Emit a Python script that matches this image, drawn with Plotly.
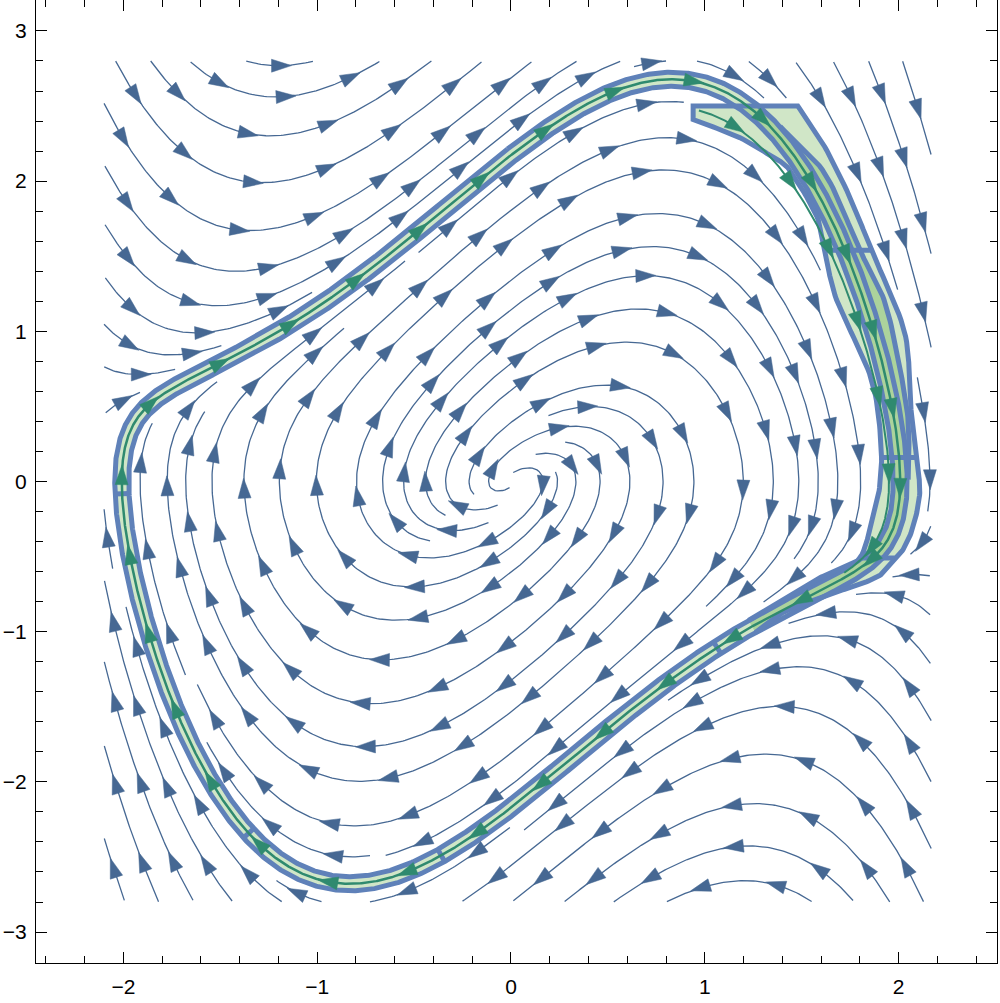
import math
from collections import deque
import numpy as np
import plotly.graph_objects as go

# ---------------- data ----------------
MU = 1.0                      # Van der Pol field: x' = y, y' = MU (1 - x^2) y - x
STREAM_X = [-2.1, 2.17]       # stream-plot domain
STREAM_Y = [-2.8, 2.8]
X_RANGE = [-2.451, 2.508]
Y_RANGE = [-3.206, 3.206]
X_TICKS = [-2, -1, 0, 1, 2]
Y_TICKS = [-3, -2, -1, 0, 1, 2, 3]
MINOR_STEP = 0.2

# cross sections of the thin enclosing tube (points near the cycle)
TUBE_CROSS_X = [0.91, -2.00, -1.35, -0.37, 1.06]
TUBE_CROSS_Y = [2.68, -0.08, -2.34, -2.47, -1.10]

# wide enclosure on the right-hand side
WIDE_IN_X = [1.23, 1.40, 1.54, 1.68, 1.80, 1.86, 1.90, 1.91, 1.86, 1.68, 1.62, 1.58,
             1.44, 1.35, 1.18, 0.94]
WIDE_IN_Y = [-0.90, -0.79, -0.675, -0.59, -0.51, -0.28, -0.06, 0.23, 0.68, 1.21, 1.54,
             1.76, 2.07, 2.16, 2.29, 2.41]
WIDE_OUT_X = [1.48, 1.61, 1.75, 1.86, 2.03, 2.06, 2.09, 2.11, 2.08, 2.03, 1.98,
              1.92, 1.82, 1.68, 1.54, 1.40, 1.23]
WIDE_OUT_Y = [2.50, 2.25, 1.89, 1.54, 1.00, 0.54, 0.16, -0.06, -0.28, -0.44, -0.51,
              -0.61, -0.675, -0.735, -0.80, -0.875, -0.97]
WIDE_CROSS_Y = [1.54, 0.16, -0.51]
WIDE_CROSS_XIN = [1.62, 1.90, 1.80]
WIDE_CROSS_XOUT = [1.86, 2.09, 1.98]

# nested enclosure (outer side of the tube)
NEST_X = [1.40, 1.62, 1.80, 1.925, 2.00, 2.05, 2.05]
NEST_Y = [2.35, 2.05, 1.54, 1.21, 0.80, 0.40, 0.03]

GREEN_START = [0.97, 2.47]

# ---------------- styling / scales ----------------
W, H = 1000, 1003
ML, MR, MT, MB = 36, 3, 0, 40
SX = (W - ML - MR) / (X_RANGE[1] - X_RANGE[0])
SY = (H - MT - MB) / (Y_RANGE[1] - Y_RANGE[0])

STREAM_COLOR = "#466893"
EDGE_COLOR = "#5F81B9"
FILL_COLOR = "rgba(60,150,20,0.24)"
CYCLE_COLOR = "#2f8a6f"
TUBE_HALF = 7.0


def field(x, y):
    return y, MU * (1 - x * x) * y - x


def rk4(x, y, dt):
    k1 = field(x, y)
    k2 = field(x + 0.5 * dt * k1[0], y + 0.5 * dt * k1[1])
    k3 = field(x + 0.5 * dt * k2[0], y + 0.5 * dt * k2[1])
    k4 = field(x + dt * k3[0], y + dt * k3[1])
    return (x + dt / 6 * (k1[0] + 2 * k2[0] + 2 * k3[0] + k4[0]),
            y + dt / 6 * (k1[1] + 2 * k2[1] + 2 * k3[1] + k4[1]))


# ---- limit cycle ----
dt = 0.002
x, y = 2.0, 0.0
for _ in range(15000):
    x, y = rk4(x, y, dt)
while True:
    xn, yn = rk4(x, y, dt)
    if x < 0 <= xn and y > 0:
        x, y = xn, yn
        break
    x, y = xn, yn
cyc = [(x, y)]
steps = 0
while True:
    xn, yn = rk4(x, y, dt)
    steps += 1
    if steps > 100 and x < 0 <= xn and yn > 0:
        break
    cyc.append((xn, yn))
    x, y = xn, yn
cyc = np.array(cyc)
cx, cy = cyc[:, 0], cyc[:, 1]
NC = len(cx)

P = np.column_stack([cx * SX, cy * SY])
T = np.roll(P, -1, axis=0) - np.roll(P, 1, axis=0)
T /= np.linalg.norm(T, axis=1)[:, None]
Nrm = np.column_stack([-T[:, 1], T[:, 0]])
cen = P.mean(axis=0)
if np.mean(np.sum(Nrm * (P - cen), axis=1)) < 0:
    Nrm = -Nrm
INNER = P - TUBE_HALF * Nrm
OUTER = P + TUBE_HALF * Nrm


def to_data(A):
    return A[:, 0] / SX, A[:, 1] / SY


def catmull(xs, ys, n=14):
    Q = np.column_stack([np.array(xs) * SX, np.array(ys) * SY])
    Q = np.vstack([2 * Q[0] - Q[1], Q, 2 * Q[-1] - Q[-2]])
    out = []
    for i in range(1, len(Q) - 2):
        p0, p1, p2, p3 = Q[i - 1], Q[i], Q[i + 1], Q[i + 2]
        for t in np.linspace(0, 1, n, endpoint=False):
            t2, t3 = t * t, t * t * t
            out.append(0.5 * ((2 * p1) + (-p0 + p2) * t + (2 * p0 - 5 * p1 + 4 * p2 - p3) * t2
                              + (-p0 + 3 * p1 - 3 * p2 + p3) * t3))
    out.append(Q[-2])
    return np.array(out)


def nearest(A, px, py):
    return int(np.argmin((A[:, 0] - px) ** 2 + (A[:, 1] - py) ** 2))


right_idx = np.arange(NC)[(np.arange(NC) < NC // 2)]

# ---- wide enclosure polygon (tail ends snapped onto the tube edges) ----
idx_tail = nearest(P, WIDE_OUT_X[-1] * SX, 0.5 * (WIDE_OUT_Y[-1] + WIDE_IN_Y[0]) * SY)
in_xs, in_ys = list(WIDE_IN_X), list(WIDE_IN_Y)
in_xs[0], in_ys[0] = INNER[idx_tail, 0] / SX, INNER[idx_tail, 1] / SY
out_xs, out_ys = list(WIDE_OUT_X), list(WIDE_OUT_Y)
out_xs[-1], out_ys[-1] = OUTER[idx_tail, 0] / SX, OUTER[idx_tail, 1] / SY
IN_C = catmull(in_xs, in_ys)
OUT_C = catmull(out_xs, out_ys)
corner = np.array([[WIDE_IN_X[-1] * SX, WIDE_OUT_Y[0] * SY]])
wide_edge = np.vstack([IN_C, corner, OUT_C])
wide_poly = wide_edge


def right_level(A, level, xmin):
    best, bi = 1e9, 0
    for i in right_idx:
        if A[i, 0] / SX > xmin:
            d = abs(A[i, 1] / SY - level)
            if d < best:
                best, bi = d, i
    return bi


# ---- nested enclosure ----
NEST_C = catmull(NEST_X, NEST_Y)
idx_nt = right_level(OUTER, NEST_Y[0], 1.0)
idx_nb = right_level(OUTER, NEST_Y[-1], 1.5)
nest_poly = np.vstack([OUTER[idx_nt:idx_nb + 1], NEST_C[::-1]])
nest_edge = np.vstack([OUTER[idx_nt:idx_nt + 1], NEST_C, OUTER[idx_nb:idx_nb + 1]])

# ---- edges ----
ex, ey = [], []


def add_path(A):
    xs, ys = to_data(A)
    ex.extend(xs.tolist() + [None])
    ey.extend(ys.tolist() + [None])


add_path(np.vstack([OUTER, OUTER[:1]]))
add_path(np.vstack([INNER, INNER[:1]]))
add_path(wide_edge)
add_path(nest_edge)
for qx, qy in zip(TUBE_CROSS_X, TUBE_CROSS_Y):
    i = nearest(P, qx * SX, qy * SY)
    add_path(np.vstack([INNER[i], OUTER[i]]))
for lv, xi, xo in zip(WIDE_CROSS_Y, WIDE_CROSS_XIN, WIDE_CROSS_XOUT):
    add_path(np.array([[xi * SX, lv * SY], [xo * SX, lv * SY]]))

# ---- blocking points (band region) ----
band = []
for f in np.linspace(-1, 1, 5):
    Bp = P + f * TUBE_HALF * Nrm
    band.extend(Bp[::2].tolist())
for A in (OUT_C, IN_C):
    for p in A:
        j = nearest(P, p[0], p[1])
        d = math.hypot(p[0] - P[j, 0], p[1] - P[j, 1])
        m = int(math.ceil(d / 5.0)) + 1
        for t in np.linspace(0, 1, m):
            band.append((P[j, 0] + t * (p[0] - P[j, 0]), P[j, 1] + t * (p[1] - P[j, 1])))
for t in np.linspace(0, 1, 30):
    band.append((WIDE_IN_X[-1] * SX + t * (WIDE_OUT_X[0] - WIDE_IN_X[-1]) * SX, WIDE_OUT_Y[0] * SY))

# ---------------- streamlines (evenly spaced) ----------------
DSEP = 31.0
DTEST = 14.0
BAND_THR = 8.0
STEP = 2.5
CRIT_R = 5.0
SELF_GAP = 45.0
MAXSTEPS = 500
MINLEN = 18.0
SEED_STRIDE = 4
X0, X1 = STREAM_X[0] * SX, STREAM_X[1] * SX
Y0, Y1 = STREAM_Y[0] * SY, STREAM_Y[1] * SY

BC = BAND_THR
BG = {}
for bx, by in band:
    BG.setdefault((int(bx // BC), int(by // BC)), []).append((bx, by))
G = {}


def band_near(x, y, thr):
    ci, cj = int(x // BC), int(y // BC)
    r = int(math.ceil(thr / BC))
    t2 = thr * thr
    for i in range(ci - r, ci + r + 1):
        for j in range(cj - r, cj + r + 1):
            lst = BG.get((i, j))
            if lst:
                for qx, qy in lst:
                    dx, dy = qx - x, qy - y
                    if dx * dx + dy * dy < t2:
                        return True
    return False


def line_near(x, y, thr):
    ci, cj = int(x // DSEP), int(y // DSEP)
    t2 = thr * thr
    for i in (ci - 1, ci, ci + 1):
        for j in (cj - 1, cj, cj + 1):
            lst = G.get((i, j))
            if lst:
                for qx, qy in lst:
                    dx, dy = qx - x, qy - y
                    if dx * dx + dy * dy < t2:
                        return True
    return False


def self_near(loc, x, y, s):
    ci, cj = int(x // DTEST), int(y // DTEST)
    t2 = DTEST * DTEST
    for i in (ci - 1, ci, ci + 1):
        for j in (cj - 1, cj, cj + 1):
            lst = loc.get((i, j))
            if lst:
                for qx, qy, qs in lst:
                    if abs(qs - s) > SELF_GAP:
                        dx, dy = qx - x, qy - y
                        if dx * dx + dy * dy < t2:
                            return True
    return False


def vdir(px, py):
    xx, yy = px / SX, py / SY
    u = yy * SX
    v = (MU * (1 - xx * xx) * yy - xx) * SY
    m = math.hypot(u, v)
    if m < 1e-9:
        return None
    return u / m, v / m


def trace_dir(x, y, sign, loc):
    pts = []
    s = 0.0
    for _ in range(MAXSTEPS):
        d = vdir(x, y)
        if d is None:
            break
        mx, my = x + 0.5 * STEP * sign * d[0], y + 0.5 * STEP * sign * d[1]
        d2 = vdir(mx, my)
        if d2 is None:
            break
        nx, ny = x + STEP * sign * d2[0], y + STEP * sign * d2[1]
        s += STEP
        if nx < X0 or nx > X1 or ny < Y0 or ny > Y1:
            break
        if nx * nx + ny * ny < CRIT_R * CRIT_R:
            break
        if band_near(nx, ny, BAND_THR) or line_near(nx, ny, DTEST) or self_near(loc, nx, ny, sign * s):
            break
        pts.append((nx, ny))
        loc.setdefault((int(nx // DTEST), int(ny // DTEST)), []).append((nx, ny, sign * s))
        x, y = nx, ny
    return pts


def make_line(sx, sy):
    loc = {(int(sx // DTEST), int(sy // DTEST)): [(sx, sy, 0.0)]}
    fw = trace_dir(sx, sy, 1, loc)
    bw = trace_dir(sx, sy, -1, loc)
    line = bw[::-1] + [(sx, sy)] + fw
    if (len(line) - 1) * STEP < MINLEN:
        return None
    for qx, qy in line:
        G.setdefault((int(qx // DSEP), int(qy // DSEP)), []).append((qx, qy))
    return line


def seed_ok(x, y):
    if x < X0 or x > X1 or y < Y0 or y > Y1:
        return False
    if x * x + y * y < (2 * CRIT_R) ** 2:
        return False
    if band_near(x, y, BAND_THR + 3):
        return False
    if line_near(x, y, DSEP * 0.9):
        return False
    return True


lines = []


def grow(sx, sy):
    if not seed_ok(sx, sy):
        return
    L = make_line(sx, sy)
    if L is None:
        return
    lines.append(L)
    q = deque([L])
    while q:
        cur = q.popleft()
        n = len(cur)
        for k in range(0, n, SEED_STRIDE):
            a = cur[max(k - 1, 0)]
            b = cur[min(k + 1, n - 1)]
            tx, ty = b[0] - a[0], b[1] - a[1]
            m = math.hypot(tx, ty)
            if m < 1e-9:
                continue
            nx, ny = -ty / m, tx / m
            for sg in (1, -1):
                qx, qy = cur[k][0] + sg * DSEP * nx, cur[k][1] + sg * DSEP * ny
                if seed_ok(qx, qy):
                    NL = make_line(qx, qy)
                    if NL is not None:
                        lines.append(NL)
                        q.append(NL)


grow(-1.0 * SX, 1.0 * SY)
grow(-1.9 * SX, 2.5 * SY)
for gy in np.arange(Y0 + 4, Y1, DSEP / 2):
    for gx in np.arange(X0 + 4, X1, DSEP / 2):
        grow(gx, gy)

# ---------------- arrows ----------------
ARW_FWD, ARW_BACK, ARW_HALF = 12.0, 8.0, 6.5
ARROW_GAP = 80.0


def arrows(A, gap, ax, ay):
    A = np.asarray(A)
    if len(A) < 3:
        return
    seg = np.hypot(np.diff(A[:, 0]), np.diff(A[:, 1]))
    cum = np.concatenate([[0], np.cumsum(seg)])
    L = cum[-1]
    if L < 6:
        return
    n = max(1, int(round(L / gap)))
    for i in range(n):
        s = (i + 0.5) * L / n
        k = int(np.clip(np.searchsorted(cum, s), 1, len(A) - 1))
        t = (s - cum[k - 1]) / max(seg[k - 1], 1e-9)
        c = A[k - 1] + t * (A[k] - A[k - 1])
        d = A[min(k + 1, len(A) - 1)] - A[max(k - 2, 0)]
        d = d / max(np.hypot(d[0], d[1]), 1e-9)
        nn = np.array([-d[1], d[0]])
        tip = c + ARW_FWD * d
        b = c - ARW_BACK * d
        l_ = b + ARW_HALF * nn
        r_ = b - ARW_HALF * nn
        for p in (tip, l_, r_, tip):
            ax.append(p[0] / SX)
            ay.append(p[1] / SY)
        ax.append(None)
        ay.append(None)


sx_, sy_ = [], []
sax, say = [], []
for L in lines:
    A = np.array(L)
    sx_.extend((A[:, 0] / SX).tolist() + [None])
    sy_.extend((A[:, 1] / SY).tolist() + [None])
    arrows(A, ARROW_GAP, sax, say)

# green trajectory from the wide-box corner and the cycle itself
gx_, gy_ = [GREEN_START[0]], [GREEN_START[1]]
x, y = GREEN_START
for _ in range(700):
    x, y = rk4(x, y, dt)
    gx_.append(x)
    gy_.append(y)
gax, gay = [], []
arrows(np.vstack([P, P[:1]]), 80.0, gax, gay)
arrows(np.column_stack([np.array(gx_) * SX, np.array(gy_) * SY]), 80.0, gax, gay)

# ---------------- figure ----------------
fig = go.Figure()
ring = np.vstack([OUTER, OUTER[:1], INNER[::-1], INNER[-1:]])
for poly in (ring, wide_poly, nest_poly):
    xs, ys = to_data(poly)
    fig.add_trace(go.Scatter(x=xs, y=ys, mode="lines", fill="toself", fillcolor=FILL_COLOR,
                             line=dict(width=0, color="rgba(0,0,0,0)"), hoverinfo="skip"))
fig.add_trace(go.Scatter(x=ex, y=ey, mode="lines", line=dict(color=EDGE_COLOR, width=5),
                         hoverinfo="skip"))
fig.add_trace(go.Scatter(x=np.append(cx, cx[0]), y=np.append(cy, cy[0]), mode="lines",
                         line=dict(color=CYCLE_COLOR, width=2.5), hoverinfo="skip"))
fig.add_trace(go.Scatter(x=gx_, y=gy_, mode="lines", line=dict(color=CYCLE_COLOR, width=2),
                         hoverinfo="skip"))
fig.add_trace(go.Scatter(x=gax, y=gay, mode="lines", fill="toself", fillcolor=CYCLE_COLOR,
                         line=dict(color=CYCLE_COLOR, width=0.5), hoverinfo="skip"))
fig.add_trace(go.Scatter(x=sx_, y=sy_, mode="lines", line=dict(color=STREAM_COLOR, width=1.3),
                         hoverinfo="skip"))
fig.add_trace(go.Scatter(x=sax, y=say, mode="lines", fill="toself", fillcolor=STREAM_COLOR,
                         line=dict(color=STREAM_COLOR, width=0.5), hoverinfo="skip"))

tickfont = dict(family="Liberation Sans", size=21, color="black")
xminor = [round(v, 3) for v in np.arange(-2.4, 2.51, MINOR_STEP) if abs(v - round(v)) > 1e-6]
yminor = [round(v, 3) for v in np.arange(-3.2, 3.21, MINOR_STEP) if abs(v - round(v)) > 1e-6]
common = dict(ticks="inside", ticklen=11, tickwidth=1.2, tickcolor="black", showline=True,
              linecolor="black", linewidth=1.2, mirror="allticks", showgrid=False,
              zeroline=False, tickfont=tickfont, automargin=False)
fig.update_xaxes(range=X_RANGE, tickmode="array", tickvals=X_TICKS, ticklabelstandoff=5,
                 minor=dict(tickmode="array", tickvals=xminor, ticklen=7, tickwidth=1.2,
                            tickcolor="black", ticks="inside", showgrid=False), **common)
fig.update_yaxes(range=Y_RANGE, tickmode="array", tickvals=Y_TICKS, ticklabelstandoff=4,
                 minor=dict(tickmode="array", tickvals=yminor, ticklen=7, tickwidth=1.2,
                            tickcolor="black", ticks="inside", showgrid=False), **common)
fig.update_layout(width=W, height=H, margin=dict(l=ML, r=MR, t=MT, b=MB),
                  plot_bgcolor="white", paper_bgcolor="white", showlegend=False)
fig.write_html("out.html", config={"displayModeBar": False},
               post_script="document.body.style.margin='0';document.body.style.overflow='hidden';")
